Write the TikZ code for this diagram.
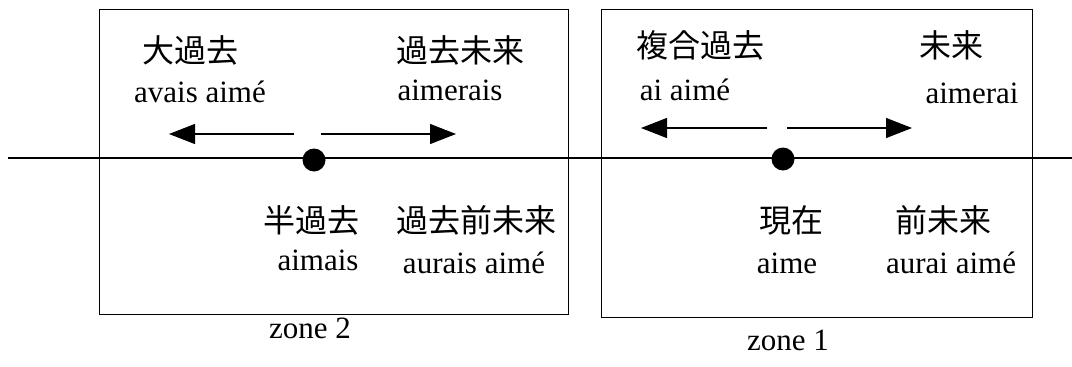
\documentclass[tikz,border=0pt]{standalone}
\usepackage{fontspec}
\setmainfont{Liberation Serif}
\newfontfamily\cjk{Noto Sans CJK JP}
\usetikzlibrary{arrows.meta}
\begin{document}
\begin{tikzpicture}[x=1pt,y=-1pt,
  zonebox/.style={draw,line width=1.2pt},
  jp/.style={font=\cjk\fontsize{32}{36}\selectfont,inner sep=0pt},
  fr/.style={font=\fontsize{31}{36}\selectfont,inner sep=0pt},
  tarrow/.style={line width=1.2pt,-{Triangle[length=26pt,width=20pt]}},
  dotst/.style={circle,fill=black,minimum size=23pt,inner sep=0pt}]
\useasboundingbox (0,0) rectangle (1072,367);
% boxes
\node[zonebox,minimum width=469pt,minimum height=305pt,anchor=north west,inner sep=0pt] (z2) at (99,9) {};
\node[zonebox,minimum width=431pt,minimum height=308pt,anchor=north west,inner sep=0pt] (z1) at (601,9) {};
% time line
\coordinate (L) at (8,158);
\coordinate (R) at (1072,158);
\draw[line width=1.2pt] (L) -- (R);
% dots
\node[dotst] (d2) at (314,160) {};
\node[dotst] (d1) at (783,159) {};
% arrows zone 2
\coordinate (a2ls) at (294,134); \coordinate (a2le) at (169,134);
\coordinate (a2rs) at (321,134); \coordinate (a2re) at (456,134);
\draw[tarrow] (a2ls) -- (a2le);
\draw[tarrow] (a2rs) -- (a2re);
% arrows zone 1
\coordinate (a1ls) at (767,128); \coordinate (a1le) at (641,128);
\coordinate (a1rs) at (787,128); \coordinate (a1re) at (912,128);
\draw[tarrow] (a1ls) -- (a1le);
\draw[tarrow] (a1rs) -- (a1re);
% zone 2 texts
\node[jp] (t1) at (190,50) {大過去};
\node[fr] (t1f) at (200,92) {avais aimé};
\node[jp] (t2) at (460,50) {過去未来};
\node[fr] (t2f) at (450,90) {aimerais};
\node[jp] (t3) at (311,220) {半過去};
\node[fr] (t3f) at (318,260) {aimais};
\node[jp] (t4) at (476,220) {過去前未来};
\node[fr] (t4f) at (474,263) {aurais aimé};
% zone 1 texts
\node[jp] (u1) at (700,45) {複合過去};
\node[fr] (u1f) at (685,90) {ai aimé};
\node[jp] (u2) at (951,45) {未来};
\node[fr] (u2f) at (972,93) {aimerai};
\node[jp] (u3) at (791,220) {現在};
\node[fr] (u3f) at (787,263) {aime};
\node[jp] (u4) at (943,220) {前未来};
\node[fr] (u4f) at (951,263) {aurai aimé};
% zone labels
\node[fr] (zl2) at (310,328) {zone 2};
\node[fr] (zl1) at (788,340) {zone 1};
\end{tikzpicture}
\end{document}
